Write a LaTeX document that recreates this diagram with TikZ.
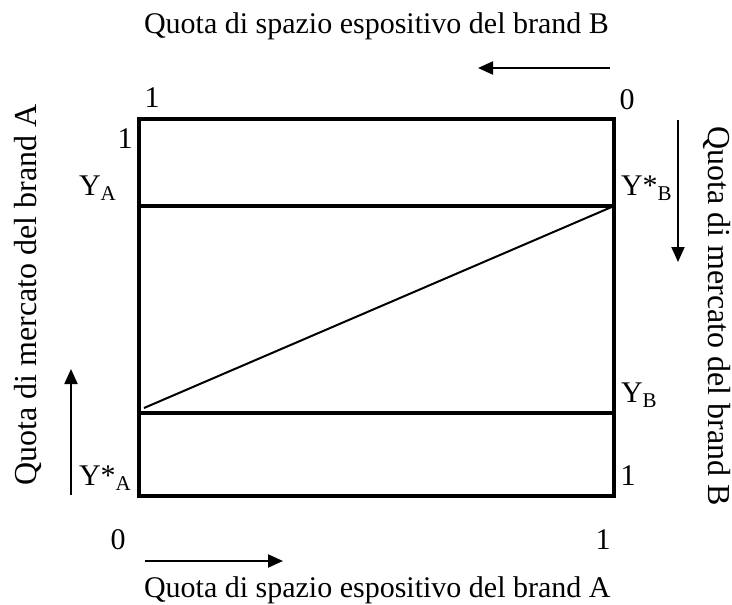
\documentclass[tikz,border=0pt]{standalone}
\usepackage{fontspec}
\setmainfont{Liberation Serif}
\usetikzlibrary{arrows.meta}
\tikzset{>={Triangle[length=15pt,width=13pt]}}
\newcommand{\pedice}[1]{\raisebox{-5pt}{\fontsize{21}{21}\selectfont #1}}

\begin{document}
\begin{tikzpicture}[x=1pt, y=-1pt, line width=2pt,
	every node/.style={inner sep=0pt, font=\fontsize{30}{36}\selectfont},
	asse/.style={font=\fontsize{32}{38}\selectfont},
	bordo/.style={line width=3.5pt}]

	\useasboundingbox (0,0) rectangle (732,605);

	% riquadro e quote
	\coordinate (sw) at (139,496);
	\coordinate (ne) at (614,119);
	\coordinate (yaL) at (139,206);
	\coordinate (yaR) at (614,206);
	\coordinate (ybL) at (139,413);
	\coordinate (ybR) at (614,413);
	\coordinate (p0) at (144,408);

	\draw[bordo] (sw) rectangle (ne);
	\draw[bordo] (yaL) -- (yaR);
	\draw[bordo] (ybL) -- (ybR);
	\draw (p0) -- (yaR);

	% valori sugli assi
	\node (tl) at (152,98) {1};
	\node (tr) at (627,100) {0};
	\node (l1) at (125,139) {1};
	\node (r1) at (628,476) {1};
	\node (bl) at (118,540) {0};
	\node (br) at (603,540) {1};
	\node[anchor=base west] (ya) at (78,195) {Y\pedice{A}};
	\node[anchor=base west] (ysb) at (620,195) {Y*\pedice{B}};
	\node[anchor=base west] (yb) at (620,402) {Y\pedice{B}};
	\node[anchor=base west] (ysa) at (78,485) {Y*\pedice{A}};

	% titoli
	\node[anchor=base west] (spB) at (143,33) {Quota di spazio espositivo del brand B};
	\node[anchor=base west] (spA) at (143,597) {Quota di spazio espositivo del brand A};
	\node[asse, rotate=90, anchor=base] (mA) at (36,295) {Quota di mercato del brand A};
	\node[asse, rotate=-90, anchor=base] (mB) at (708,316) {Quota di mercato del brand B};

	% frecce
	\coordinate (fB1) at (610,68);
	\coordinate (fB2) at (478,68);
	\coordinate (fA1) at (145,561);
	\coordinate (fA2) at (283,561);
	\coordinate (mA1) at (71,495);
	\coordinate (mA2) at (71,369);
	\coordinate (mB1) at (678,120);
	\coordinate (mB2) at (678,262);
	\draw[->] (fB1) -- (fB2);
	\draw[->] (fA1) -- (fA2);
	\draw[->] (mA1) -- (mA2);
	\draw[->] (mB1) -- (mB2);
\end{tikzpicture}
\end{document}
